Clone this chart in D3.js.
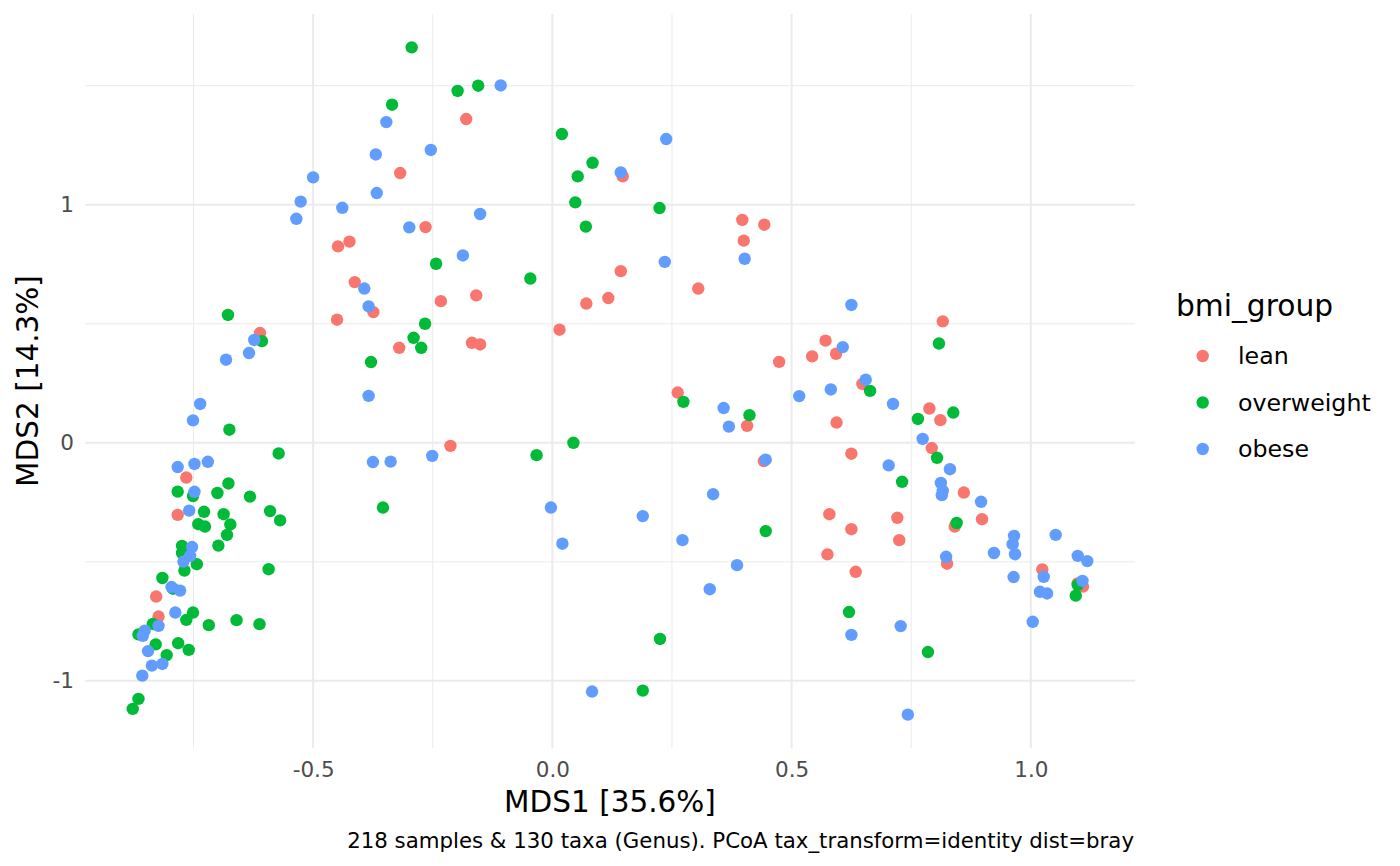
<!DOCTYPE html>
<html>
<head>
<meta charset="utf-8">
<script src="https://cdn.jsdelivr.net/npm/d3@7"></script>
<style>
  body { margin: 0; background: #fff; }
  svg { display: block; font-family: "DejaVu Sans", sans-serif; }
</style>
</head>
<body>
<div id="chart"></div>
<script>
'use strict';

// groups, in legend order
var groups = ["lean", "overweight", "obese"];
var groupColors = ["#F8766D", "#00BA38", "#619CFF"];

// [MDS1, MDS2] per sample
var lean = [
    [-0.611, 0.461], [-0.765, -0.146], [-0.783, -0.303], [-0.828, -0.646], [-0.823, -0.730],
    [-0.180, 1.360], [-0.318, 1.133], [-0.265, 0.906], [-0.448, 0.825], [-0.424, 0.845],
    [-0.413, 0.675], [-0.233, 0.595], [-0.159, 0.619], [-0.374, 0.549], [-0.450, 0.517],
    [-0.320, 0.399], [-0.168, 0.420], [-0.151, 0.413], [-0.213, -0.013], [0.147, 1.119],
    [0.397, 0.936], [0.443, 0.916], [0.400, 0.849], [0.143, 0.721], [0.305, 0.648],
    [0.071, 0.585], [0.117, 0.608], [0.015, 0.475], [0.571, 0.429], [0.543, 0.363],
    [0.593, 0.374], [0.474, 0.340], [0.262, 0.211], [0.407, 0.071], [0.594, 0.085],
    [0.625, -0.046], [0.442, -0.077], [0.579, -0.300], [0.625, -0.363], [0.575, -0.469],
    [0.634, -0.542], [0.816, 0.510], [0.648, 0.247], [0.788, 0.144], [0.811, 0.095],
    [0.793, -0.022], [0.860, -0.209], [0.721, -0.315], [0.898, -0.321], [0.725, -0.409],
    [0.841, -0.352], [0.825, -0.508], [1.024, -0.532], [1.098, -0.591], [1.109, -0.604]
];

var overweight = [
    [-0.678, 0.537], [-0.607, 0.427], [-0.675, 0.055], [-0.572, -0.045], [-0.677, -0.171],
    [-0.783, -0.205], [-0.751, -0.224], [-0.700, -0.211], [-0.632, -0.226], [-0.728, -0.290],
    [-0.687, -0.300], [-0.590, -0.287], [-0.569, -0.326], [-0.740, -0.342], [-0.726, -0.352],
    [-0.673, -0.343], [-0.680, -0.387], [-0.698, -0.432], [-0.774, -0.433], [-0.774, -0.463],
    [-0.743, -0.510], [-0.769, -0.537], [-0.593, -0.531], [-0.815, -0.568], [-0.793, -0.613],
    [-0.751, -0.713], [-0.765, -0.744], [-0.835, -0.761], [-0.718, -0.766], [-0.660, -0.745],
    [-0.612, -0.762], [-0.865, -0.805], [-0.829, -0.847], [-0.782, -0.842], [-0.760, -0.870],
    [-0.806, -0.892], [-0.865, -1.076], [-0.877, -1.118], [-0.294, 1.661], [-0.198, 1.478],
    [-0.155, 1.500], [-0.335, 1.420], [0.020, 1.297], [-0.243, 0.752], [-0.046, 0.690],
    [-0.266, 0.500], [-0.290, 0.441], [-0.274, 0.399], [-0.379, 0.339], [-0.033, -0.052],
    [-0.354, -0.272], [0.084, 1.176], [0.053, 1.119], [0.048, 1.010], [0.224, 0.986],
    [0.070, 0.908], [0.274, 0.172], [0.412, 0.116], [0.044, 0.000], [0.446, -0.371],
    [0.225, -0.824], [0.189, -1.041], [0.620, -0.711], [0.808, 0.417], [0.664, 0.218],
    [0.764, 0.100], [0.838, 0.127], [0.804, -0.063], [0.731, -0.164], [0.845, -0.337],
    [1.098, -0.597], [1.094, -0.642], [0.785, -0.879]
];

var obese = [
    [-0.623, 0.432], [-0.634, 0.377], [-0.682, 0.349], [-0.736, 0.163], [-0.751, 0.094],
    [-0.783, -0.102], [-0.748, -0.089], [-0.720, -0.080], [-0.748, -0.206], [-0.759, -0.285],
    [-0.753, -0.438], [-0.757, -0.475], [-0.771, -0.499], [-0.796, -0.606], [-0.778, -0.621],
    [-0.788, -0.713], [-0.823, -0.769], [-0.852, -0.789], [-0.856, -0.811], [-0.845, -0.875],
    [-0.837, -0.936], [-0.815, -0.929], [-0.857, -0.978], [-0.108, 1.501], [-0.347, 1.347],
    [-0.369, 1.211], [-0.254, 1.230], [-0.500, 1.115], [-0.367, 1.049], [-0.526, 1.013],
    [-0.439, 0.987], [-0.535, 0.941], [-0.299, 0.905], [-0.151, 0.961], [-0.187, 0.787],
    [-0.393, 0.648], [-0.384, 0.573], [-0.384, 0.197], [-0.375, -0.081], [-0.338, -0.079],
    [-0.251, -0.055], [-0.003, -0.272], [0.021, -0.424], [0.238, 1.276], [0.143, 1.136],
    [0.235, 0.760], [0.402, 0.773], [0.625, 0.579], [0.607, 0.402], [0.516, 0.196],
    [0.582, 0.224], [0.358, 0.146], [0.369, 0.068], [0.446, -0.071], [0.336, -0.216],
    [0.189, -0.308], [0.272, -0.409], [0.386, -0.514], [0.329, -0.615], [0.625, -0.807],
    [0.083, -1.045], [0.655, 0.265], [0.712, 0.163], [0.774, 0.016], [0.703, -0.095],
    [0.831, -0.111], [0.812, -0.169], [0.816, -0.202], [0.814, -0.220], [0.896, -0.248],
    [0.965, -0.391], [0.962, -0.426], [0.967, -0.468], [0.923, -0.463], [1.052, -0.387],
    [1.098, -0.475], [1.118, -0.497], [0.823, -0.479], [0.964, -0.564], [1.027, -0.563],
    [1.019, -0.626], [1.034, -0.633], [1.108, -0.580], [0.728, -0.770], [1.004, -0.752],
    [0.743, -1.142]
];

var xTicks = [-0.5, 0.0, 0.5, 1.0];
var xMinor = [-0.75, -0.25, 0.25, 0.75];
var yTicks = [-1, 0, 1];
var yMinor = [-0.5, 0.5, 1.5];

var xTitle = "MDS1 [35.6%]";
var yTitle = "MDS2 [14.3%]";
var legendTitle = "bmi_group";
var caption = "218 samples & 130 taxa (Genus). PCoA tax_transform=identity dist=bray";

var width = 1400, height = 866;
var panel = {left: 85, right: 1135, top: 14, bottom: 748};

var svg = d3.select("#chart").append("svg")
    .attr("width", width).attr("height", height);

var seriesData = [lean, overweight, obese];
var all = [].concat(lean, overweight, obese);

// ggplot style 5% expansion
function expand(ext) {
    var pad = (ext[1] - ext[0]) * 0.05;
    return [ext[0] - pad, ext[1] + pad];
}
var x = d3.scaleLinear()
    .domain(expand(d3.extent(all, function(d) { return d[0]; })))
    .range([panel.left, panel.right]);
var y = d3.scaleLinear()
    .domain(expand(d3.extent(all, function(d) { return d[1]; })))
    .range([panel.bottom, panel.top]);

// plain hyphen for negatives, like R
var loc = d3.formatLocale({decimal: ".", thousands: ",", grouping: [3], currency: ["", ""], minus: "-"});

var grid = svg.append("g");
// minor grid
grid.selectAll("line.xmin").data(xMinor).enter().append("line")
    .attr("x1", x).attr("x2", x).attr("y1", panel.top).attr("y2", panel.bottom)
    .attr("stroke", "#ebebeb").attr("stroke-width", 1);
grid.selectAll("line.ymin").data(yMinor).enter().append("line")
    .attr("y1", y).attr("y2", y).attr("x1", panel.left).attr("x2", panel.right)
    .attr("stroke", "#ebebeb").attr("stroke-width", 1);
// major grid
grid.selectAll("line.xmaj").data(xTicks).enter().append("line")
    .attr("x1", x).attr("x2", x).attr("y1", panel.top).attr("y2", panel.bottom)
    .attr("stroke", "#ebebeb").attr("stroke-width", 2);
grid.selectAll("line.ymaj").data(yTicks).enter().append("line")
    .attr("y1", y).attr("y2", y).attr("x1", panel.left).attr("x2", panel.right)
    .attr("stroke", "#ebebeb").attr("stroke-width", 2);

// axes (no lines, just labels)
var xAxis = svg.append("g")
    .attr("transform", "translate(0," + panel.bottom + ")")
    .call(d3.axisBottom(x).tickValues(xTicks).tickFormat(loc.format(".1f")).tickSize(0).tickPadding(14));
var yAxis = svg.append("g")
    .attr("transform", "translate(" + panel.left + ",0)")
    .call(d3.axisLeft(y).tickValues(yTicks).tickFormat(loc.format("d")).tickSize(0).tickPadding(11));
[xAxis, yAxis].forEach(function(ax) {
    ax.select(".domain").remove();
    ax.selectAll("text")
        .attr("font-family", "DejaVu Sans").attr("font-size", 21.5)
        .attr("fill", "#4d4d4d");
});

// points
seriesData.forEach(function(pts, i) {
    svg.append("g").selectAll("circle").data(pts).enter().append("circle")
        .attr("cx", function(d) { return x(d[0]); })
        .attr("cy", function(d) { return y(d[1]); })
        .attr("r", 6.2)
        .attr("fill", groupColors[i]);
});

// titles
svg.append("text")
    .text(xTitle)
    .attr("x", (panel.left + panel.right) / 2).attr("y", 812)
    .attr("text-anchor", "middle")
    .attr("font-size", 29.5).attr("fill", "#000");
svg.append("text")
    .text(yTitle)
    .attr("transform", "translate(38," + ((panel.top + panel.bottom) / 2) + ") rotate(-90)")
    .attr("text-anchor", "middle")
    .attr("font-size", 29.5).attr("fill", "#000");
svg.append("text")
    .text(caption)
    .attr("x", 1134).attr("y", 848)
    .attr("text-anchor", "end")
    .attr("font-size", 21.3).attr("fill", "#000");

// legend
var legend = svg.append("g");
legend.append("text")
    .text(legendTitle)
    .attr("x", 1176).attr("y", 316)
    .attr("font-size", 29.7).attr("fill", "#000");
var keyY = d3.scalePoint().domain(groups).range([356, 449]);
groups.forEach(function(g, i) {
    legend.append("circle")
        .attr("cx", 1202.7).attr("cy", keyY(g))
        .attr("r", 6.2).attr("fill", groupColors[i]);
    legend.append("text")
        .text(g)
        .attr("x", 1238).attr("y", keyY(g))
        .attr("dy", "0.35em")
        .attr("font-size", 23.7).attr("fill", "#000");
});
</script>
</body>
</html>
